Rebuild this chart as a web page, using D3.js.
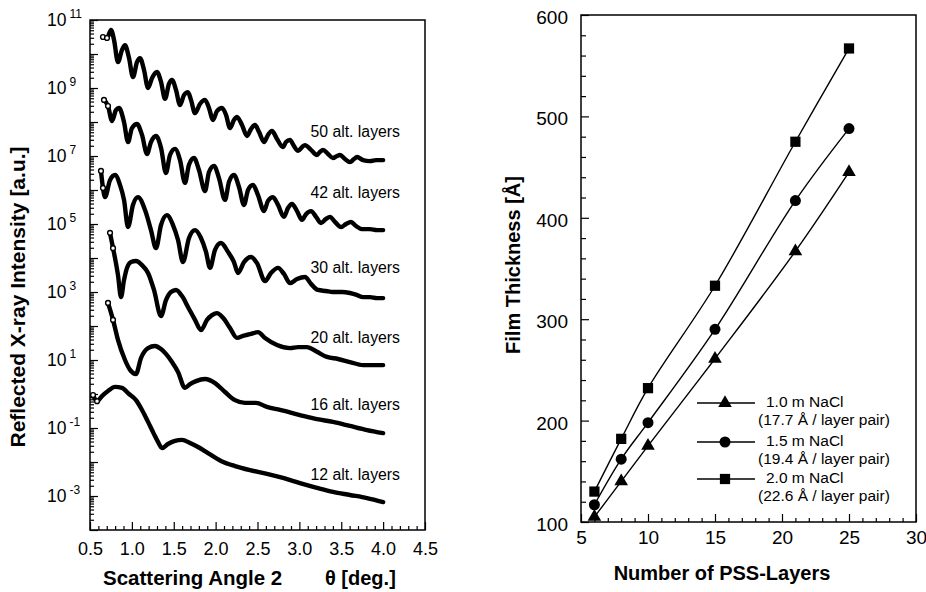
<!DOCTYPE html>
<html>
<head>
<meta charset="utf-8">
<script src="https://cdn.jsdelivr.net/npm/d3@7"></script>
<style>
  body { margin: 0; background: #fff; }
  svg { font-family: "Liberation Sans", Arial, sans-serif; }
  .tick line { stroke: #000; stroke-width: 1.2; }
</style>
</head>
<body>
<div id="chart"></div>
<script>
// ---- left panel: X-ray reflectivity, angle 2θ [deg] and log10 of intensity
const theta50 = [0.655,0.703,0.751,0.787,0.834,0.882,0.918,0.966,1.013,1.061,1.097,1.145,1.193,1.240,1.300,1.348,1.396,1.443,1.479,1.527,1.575,1.622,1.670,1.706,1.754,1.813,1.873,1.921,1.969,2.016,2.076,2.124,2.172,2.219,2.255,2.315,2.375,2.422,2.470,2.518,2.578,2.625,2.673,2.733,2.804,2.840,2.888,2.936,2.984,3.031,3.067,3.139,3.210,3.246,3.282,3.342,3.401,3.449,3.485,3.545,3.604,3.652,3.688,3.760,3.843,3.915,4.000];
const log50 = [10.50,10.47,10.71,10.41,9.76,10.12,10.26,9.88,9.32,9.76,9.88,9.53,9.00,9.29,9.47,9.18,8.68,9.12,9.24,8.94,8.50,8.79,8.88,8.65,8.26,8.53,8.65,8.41,8.06,8.32,8.41,8.21,7.82,8.06,8.15,7.91,7.59,7.79,7.91,7.71,7.41,7.62,7.74,7.50,7.26,7.41,7.47,7.29,7.15,7.26,7.32,7.18,7.03,7.12,7.18,7.06,6.94,7.00,7.03,6.91,6.82,6.91,6.97,6.88,6.85,6.88,6.88];

const theta42 = [0.667,0.715,0.763,0.810,0.846,0.906,0.954,1.001,1.061,1.121,1.181,1.228,1.288,1.348,1.407,1.455,1.515,1.575,1.634,1.682,1.742,1.801,1.873,1.921,1.981,2.040,2.112,2.160,2.219,2.279,2.339,2.387,2.446,2.506,2.578,2.625,2.685,2.745,2.816,2.864,2.912,2.972,3.031,3.079,3.139,3.199,3.258,3.318,3.366,3.425,3.497,3.557,3.616,3.676,3.748,3.843,3.927,4.000];
const log42 = [8.65,8.47,8.03,8.35,8.41,8.00,7.41,7.82,7.94,7.62,7.06,7.41,7.59,7.24,6.50,7.03,7.21,6.88,6.21,6.74,6.94,6.59,5.97,6.53,6.71,6.35,5.71,6.24,6.44,6.09,5.56,6.00,6.15,5.85,5.38,5.68,5.79,5.56,5.21,5.47,5.59,5.38,5.12,5.29,5.38,5.21,5.03,5.15,5.21,5.06,4.91,5.00,5.06,4.94,4.85,4.85,4.82,4.82];

const theta30 = [0.631,0.655,0.679,0.739,0.799,0.858,0.906,0.954,1.013,1.073,1.157,1.228,1.288,1.348,1.419,1.491,1.551,1.610,1.682,1.754,1.825,1.885,1.933,1.993,2.064,2.148,2.219,2.267,2.339,2.422,2.494,2.590,2.661,2.745,2.816,2.888,2.972,3.067,3.139,3.222,3.318,3.401,3.509,3.604,3.688,3.760,3.843,3.927,4.000];
const log30 = [6.56,6.06,5.79,6.29,6.44,6.15,5.71,4.91,5.56,5.79,5.41,4.82,4.29,4.97,5.26,4.97,4.53,3.88,4.59,4.82,4.59,4.18,3.71,4.24,4.44,4.18,3.88,3.56,3.88,4.03,3.85,3.32,3.56,3.71,3.53,3.26,3.38,3.44,3.24,3.06,3.03,3.00,3.00,2.97,2.91,2.85,2.85,2.82,2.82];

const theta20 = [0.739,0.775,0.810,0.834,0.870,0.906,0.942,0.990,1.049,1.121,1.193,1.264,1.348,1.407,1.467,1.527,1.599,1.670,1.754,1.825,1.897,1.957,2.016,2.088,2.172,2.255,2.327,2.410,2.506,2.590,2.733,2.888,2.984,3.091,3.210,3.330,3.461,3.604,3.760,3.879,4.000];
const log20 = [4.74,4.29,3.85,3.50,2.85,3.35,3.71,3.88,3.91,3.79,3.56,3.06,2.29,2.76,3.00,3.06,2.88,2.56,2.18,1.88,2.18,2.32,2.38,2.24,1.94,1.65,1.71,1.76,1.82,1.65,1.44,1.35,1.38,1.38,1.24,1.09,1.03,0.94,0.85,0.85,0.85];

const theta16 = [0.715,0.775,0.834,0.918,0.978,1.049,1.109,1.193,1.276,1.348,1.407,1.479,1.551,1.634,1.694,1.766,1.873,1.993,2.112,2.231,2.351,2.482,2.613,2.769,3.007,3.210,3.401,3.604,3.807,4.000];
const log16 = [2.68,2.18,1.59,1.00,0.71,0.59,1.06,1.35,1.41,1.32,1.18,0.94,0.65,0.18,0.29,0.38,0.44,0.32,0.06,-0.18,-0.26,-0.26,-0.38,-0.47,-0.62,-0.74,-0.82,-0.94,-1.06,-1.15];

const theta12 = [0.536,0.584,0.643,0.715,0.799,0.882,0.966,1.049,1.121,1.193,1.264,1.312,1.360,1.431,1.515,1.599,1.694,1.790,1.909,2.064,2.231,2.410,2.613,2.804,3.007,3.210,3.401,3.604,3.807,4.000];
const log12 = [-0.03,-0.21,-0.06,0.09,0.21,0.18,0.00,-0.18,-0.47,-0.82,-1.18,-1.41,-1.59,-1.47,-1.38,-1.35,-1.44,-1.56,-1.74,-1.97,-2.12,-2.24,-2.35,-2.47,-2.62,-2.76,-2.88,-2.97,-3.06,-3.18];

const curveNames = ["50 alt. layers", "42 alt. layers", "30 alt. layers", "20 alt. layers", "16 alt. layers", "12 alt. layers"];
const xTicksLeft = [0.5, 1.0, 1.5, 2.0, 2.5, 3.0, 3.5, 4.0, 4.5];
const yLabelExps = [11, 9, 7, 5, 3, 1, -1, -3];

// ---- right panel: film thickness vs number of PSS layers
const pssLayers = [6, 8, 10, 15, 21, 25];
const thick10 = [105, 140, 175, 261, 367, 445];
const thick15 = [117, 162, 198, 290, 417, 488];
const thick20 = [130, 182, 232, 333, 475, 567];
const saltNames = ["1.0 m NaCl", "1.5 m NaCl", "2.0 m NaCl"];
const saltRates = ["(17.7 Å / layer pair)", "(19.4 Å / layer pair)", "(22.6 Å / layer pair)"];
const xTicksRight = [5, 10, 15, 20, 25, 30];
const yTicksRight = [100, 200, 300, 400, 500, 600];

const svg = d3.select("#chart").append("svg")
    .attr("width", 926)
    .attr("height", 592);

// ================= left panel =================
const xL = d3.scaleLinear().domain([0.5, 4.5]).range([90, 425]);
const yL = d3.scaleLog().domain([1e-4, 1e11]).range([530, 20]);

const minorX = d3.range(6, 45).map(d => d / 10).filter(d => Math.round(d * 10) % 5 !== 0);
svg.append("g")
    .attr("transform", "translate(0,530)")
    .call(d3.axisBottom(xL).tickValues(minorX).tickSize(-4).tickFormat(""))
    .call(g => g.select(".domain").remove());
svg.append("g")
    .attr("transform", "translate(0,530)")
    .call(d3.axisBottom(xL).tickValues(xTicksLeft).tickSize(-8).tickPadding(12).tickFormat(d3.format(".1f")))
    .call(g => g.select(".domain").remove())
    .call(g => g.selectAll("text").attr("font-size", 18).attr("fill", "#000"));

const decades = d3.range(-4, 12).map(e => Math.pow(10, e));
const minorY = [];
d3.range(-4, 11).forEach(e => { for (let k = 2; k < 10; k++) minorY.push(k * Math.pow(10, e)); });
svg.append("g")
    .attr("transform", "translate(90,0)")
    .call(d3.axisLeft(yL).tickValues(minorY).tickSize(-4).tickFormat(""))
    .call(g => g.select(".domain").remove());
svg.append("g")
    .attr("transform", "translate(90,0)")
    .call(d3.axisLeft(yL).tickValues(decades).tickSize(-8).tickFormat(""))
    .call(g => g.select(".domain").remove());

const yLab = svg.append("g").selectAll("text")
    .data(yLabelExps)
    .join("text")
    .attr("x", 47)
    .attr("y", d => yL(Math.pow(10, d)) + 6)
    .attr("font-size", 17.5);
yLab.append("tspan").text("10");
yLab.append("tspan").attr("dx", 3).attr("dy", -8).attr("font-size", 12).text(d => d);

svg.append("rect")
    .attr("x", 90).attr("y", 20).attr("width", 335).attr("height", 510)
    .attr("fill", "none").attr("stroke", "#000").attr("stroke-width", 1.5);

const xrr = [
    [theta50, log50], [theta42, log42], [theta30, log30],
    [theta20, log20], [theta16, log16], [theta12, log12]
];
const xrrLine = d3.line()
    .x(d => xL(d[0]))
    .y(d => yL(d[1]))
    .curve(d3.curveMonotoneX);

xrr.forEach(([t, l]) => {
    const pts = d3.zip(t, l.map(v => Math.pow(10, v)));
    svg.append("path")
        .datum(pts)
        .attr("d", xrrLine)
        .attr("fill", "none")
        .attr("stroke", "#000")
        .attr("stroke-width", 4.4)
        .attr("stroke-linejoin", "round")
        .attr("stroke-linecap", "round");
    // the first measured points show up as separate open circles
    svg.append("g").selectAll("circle")
        .data(pts.slice(0, 2))
        .join("circle")
        .attr("cx", d => xL(d[0]))
        .attr("cy", d => yL(d[1]))
        .attr("r", 2.4)
        .attr("fill", "#fff")
        .attr("stroke", "#000")
        .attr("stroke-width", 1.4);
});

// curve labels sit a little above each curve's last point
const labelGap = [23, 32, 25, 22, 23, 22];
svg.append("g").selectAll("text")
    .data(xrr)
    .join("text")
    .attr("x", 400)
    .attr("y", (d, i) => yL(Math.pow(10, d[1][d[1].length - 1])) - labelGap[i])
    .attr("text-anchor", "end")
    .attr("font-size", 15.8)
    .text((d, i) => curveNames[i]);

svg.append("text")
    .attr("transform", "translate(25,297) rotate(-90)")
    .attr("text-anchor", "middle")
    .attr("font-size", 21)
    .attr("font-weight", "bold")
    .text("Reflected X-ray Intensity [a.u.]");

svg.append("text")
    .attr("x", 103).attr("y", 585)
    .attr("font-size", 20.5).attr("font-weight", "bold")
    .text("Scattering Angle 2");
svg.append("text")
    .attr("x", 325).attr("y", 585)
    .attr("font-size", 20).attr("font-weight", "bold")
    .text("θ [deg.]");

// ================= right panel =================
const xR = d3.scaleLinear().domain([5, 30]).range([581, 916]);
const yR = d3.scaleLinear().domain([100, 600]).range([522, 15]);

svg.append("g")
    .attr("transform", "translate(0,522)")
    .call(d3.axisBottom(xR).tickValues(d3.range(6, 30).filter(d => d % 5 !== 0)).tickSize(-4).tickFormat(""))
    .call(g => g.select(".domain").remove());
svg.append("g")
    .attr("transform", "translate(0,522)")
    .call(d3.axisBottom(xR).tickValues(xTicksRight).tickSize(-8).tickPadding(9).tickFormat(d3.format("d")))
    .call(g => g.select(".domain").remove())
    .call(g => g.selectAll("text").attr("font-size", 19).attr("fill", "#000"));

svg.append("g")
    .attr("transform", "translate(581,0)")
    .call(d3.axisLeft(yR).tickValues(d3.range(120, 600, 20).filter(d => d % 100 !== 0)).tickSize(-5).tickFormat(""))
    .call(g => g.select(".domain").remove());
svg.append("g")
    .attr("transform", "translate(581,0)")
    .call(d3.axisLeft(yR).tickValues(yTicksRight).tickSize(-8).tickPadding(13).tickFormat(d3.format("d")))
    .call(g => g.select(".domain").remove())
    .call(g => g.selectAll("text").attr("font-size", 19).attr("dy", "0.45em").attr("fill", "#000"));

svg.append("rect")
    .attr("x", 581).attr("y", 15).attr("width", 335).attr("height", 507)
    .attr("fill", "none").attr("stroke", "#000").attr("stroke-width", 1.5);

const thickSeries = [thick10, thick15, thick20];
const symbols = [d3.symbolTriangle, d3.symbolCircle, d3.symbolSquare];
const symSizes = [80, 95, 105];
const fitLine = d3.line()
    .x(d => xR(d[0]))
    .y(d => yR(d[1]))
    .curve(d3.curveCatmullRom);

thickSeries.forEach((vals, i) => {
    const pts = d3.zip(pssLayers, vals);
    svg.append("path")
        .datum(pts)
        .attr("d", fitLine)
        .attr("fill", "none")
        .attr("stroke", "#000")
        .attr("stroke-width", 1.4);
    svg.append("g").selectAll("path")
        .data(pts)
        .join("path")
        .attr("transform", d => `translate(${xR(d[0])},${yR(d[1])})`)
        .attr("d", d3.symbol(symbols[i], symSizes[i]))
        .attr("fill", "#000");
});

// legend
const legendRows = [403, 442, 479];
saltNames.forEach((name, i) => {
    const y = legendRows[i];
    svg.append("line")
        .attr("x1", 697).attr("x2", 755).attr("y1", y).attr("y2", y)
        .attr("stroke", "#000").attr("stroke-width", 1.4);
    svg.append("path")
        .attr("transform", `translate(725,${y})`)
        .attr("d", d3.symbol(symbols[i], symSizes[i]))
        .attr("fill", "#000");
    svg.append("text")
        .attr("x", 766).attr("y", y + 4)
        .attr("font-size", 15.5)
        .text(name);
    svg.append("text")
        .attr("x", 758).attr("y", y + 22)
        .attr("font-size", 15.5)
        .text(saltRates[i]);
});

svg.append("text")
    .attr("transform", "translate(520,265) rotate(-90)")
    .attr("text-anchor", "middle")
    .attr("font-size", 20)
    .attr("font-weight", "bold")
    .text("Film Thickness [Å]");

svg.append("text")
    .attr("x", 722).attr("y", 580)
    .attr("text-anchor", "middle")
    .attr("font-size", 20)
    .attr("font-weight", "bold")
    .text("Number of PSS-Layers");
</script>
</body>
</html>
